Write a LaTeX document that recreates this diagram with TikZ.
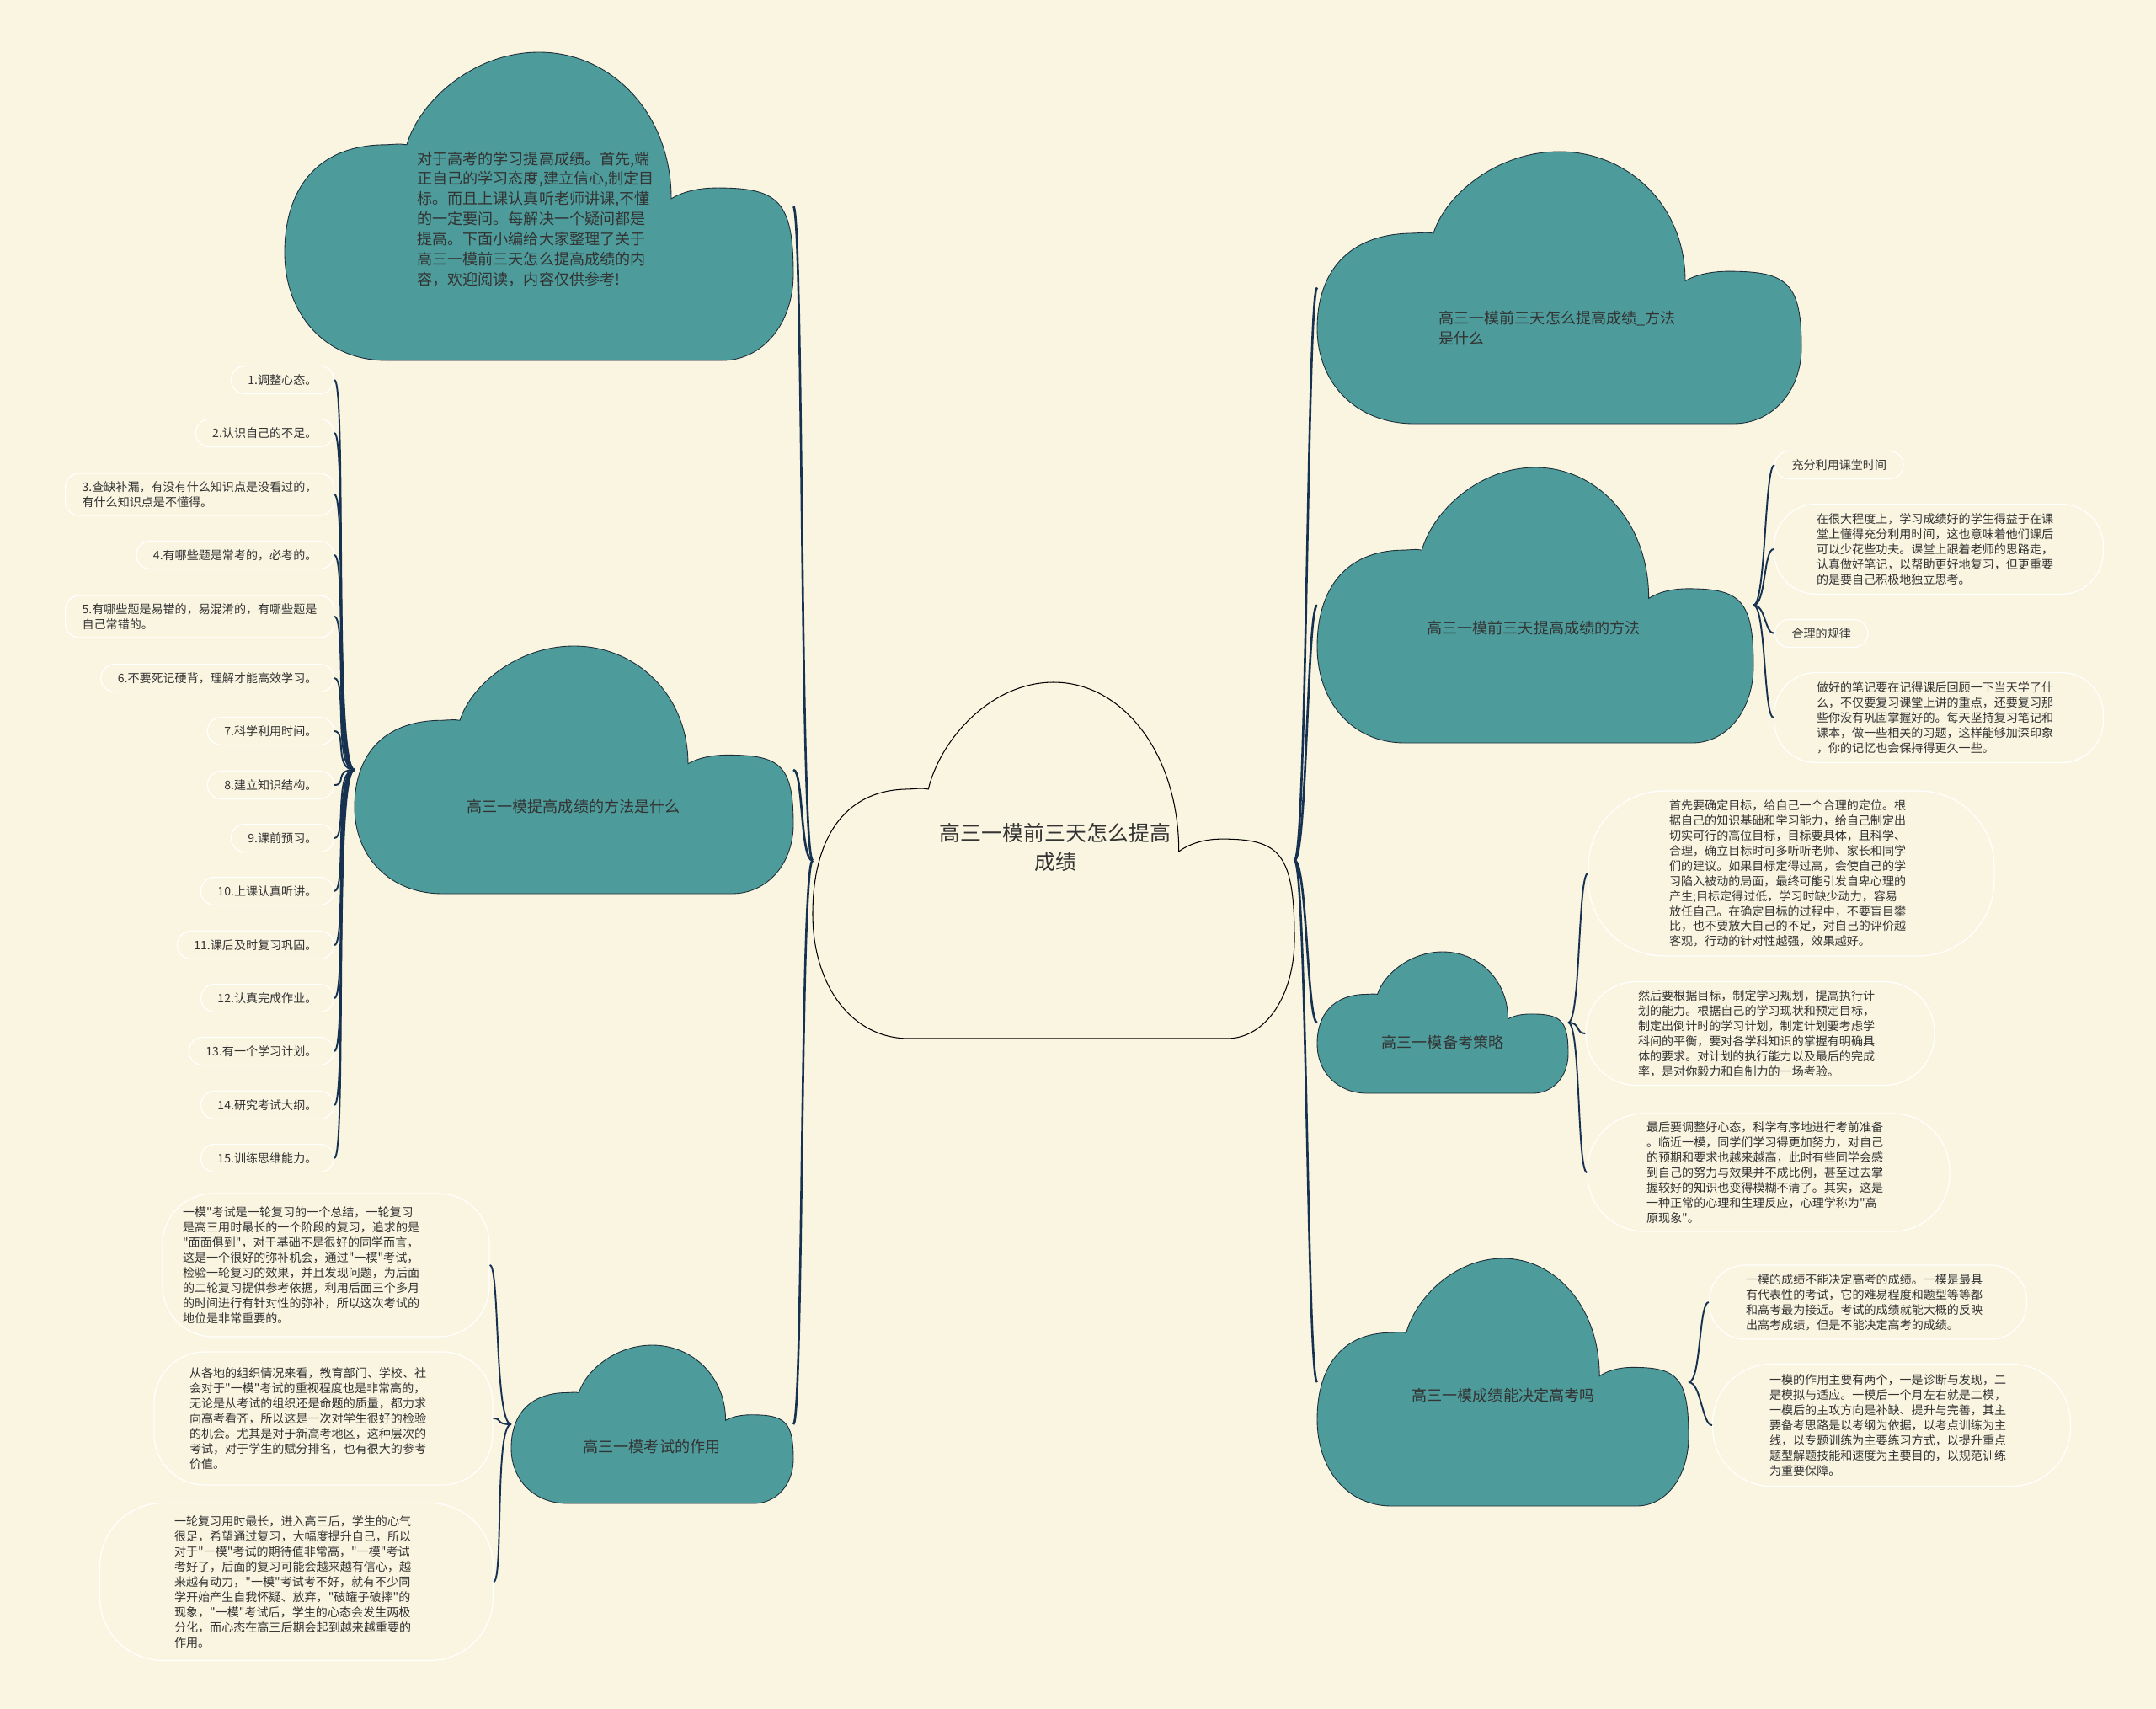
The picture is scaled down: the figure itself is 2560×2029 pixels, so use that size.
\documentclass[tikz,border=0pt]{standalone}
\usepackage{fontspec}
\setmainfont{Noto Sans CJK SC}
\newfontfamily\cjkfont{Noto Sans CJK SC}
\usetikzlibrary{calc}

\definecolor{paper}{RGB}{250,245,225}
\definecolor{cloudc}{RGB}{77,155,154}
\definecolor{ink}{RGB}{51,51,51}
\definecolor{navy}{RGB}{22,50,80}
\definecolor{rim}{RGB}{30,45,55}

\newcommand{\smallfont}{\cjkfont\fontsize{8pt}{10.2pt}\selectfont}
\newcommand{\labelfont}{\cjkfont\fontsize{10.3pt}{13.6pt}\selectfont}
\newcommand{\bigfont}{\cjkfont\fontsize{14.2pt}{19pt}\selectfont}

\tikzset{
  link/.style={draw=navy, line width=1.1pt},
  mainlink/.style={draw=navy, line width=1.5pt},
  tealcloud/.style={fill=cloudc, draw=rim, line width=0.5pt},
  topcloud/.style={fill=paper, draw=black, line width=0.6pt},
  item/.style={draw=white, line width=0.7pt, fill=paper, rounded corners=0.33cm,
    minimum height=0.66cm, inner xsep=0.4cm, inner ysep=0.1cm, align=left,
    font=\smallfont, text=ink},
  note/.style={draw=white, line width=0.7pt, fill=paper, align=left,
    font=\smallfont, text=ink, text width=5.8cm},
  cloudtext/.style={font=\labelfont, text=ink, inner sep=0pt, align=left}
}

% cloud: name, left x, top y, right x, bottom y, style
\newcommand{\cloud}[6]{%
  \pgfmathsetmacro{\cloudw}{#4-#2}%
  \pgfmathsetmacro{\cloudh}{#5-#3}%
  \begin{scope}[shift={(#2,#5)}, xscale=\cloudw, yscale=-\cloudh]
    \path[#6] (0.2,0) -- (0.86,0)
      .. controls (0.94,0) and (1,0.12) .. (1,0.28)
      .. controls (1,0.52) and (0.97,0.56) .. (0.85,0.56)
      .. controls (0.81,0.56) and (0.78,0.545) .. (0.76,0.525)
      .. controls (0.76,0.80) and (0.643,1) .. (0.5,1)
      .. controls (0.37,1) and (0.265,0.84) .. (0.24,0.70)
      .. controls (0.23,0.703) .. (0.2,0.70)
      .. controls (0.06,0.70) and (0,0.55) .. (0,0.35)
      .. controls (0,0.15) and (0.08,0) .. (0.2,0) -- cycle;
    \coordinate (#1-w) at (0,0.5);
    \coordinate (#1-e) at (1,0.5);
  \end{scope}}

\begin{document}
\begin{tikzpicture}[x=0.02cm, y=-0.02cm]
  \useasboundingbox (0,0) rectangle (2560,2029);
  \fill[paper] (0,0) rectangle (2560,2029);

  % clouds
  \cloud{c0}{965}{810}{1537}{1233}{topcloud}
  \cloud{c1}{338}{62}{942}{428}{tealcloud}
  \cloud{c2}{421}{767}{942}{1061}{tealcloud}
  \cloud{c3}{607}{1597}{942}{1785}{tealcloud}
  \cloud{r1}{1564}{180}{2139}{503}{tealcloud}
  \cloud{r2}{1564}{555}{2082}{882}{tealcloud}
  \cloud{r3}{1564}{1130}{1862}{1298}{tealcloud}
  \cloud{r4}{1564}{1494}{2005}{1788}{tealcloud}

  % cloud texts
  \node[font=\bigfont, text=ink, align=center, inner sep=0pt] (n0) at (1253,1006)
    {高三一模前三天怎么提高\\成绩};
  \node[cloudtext] (n1) at (636,260)
    {对于高考的学习提高成绩。首先,端\\正自己的学习态度,建立信心,制定目\\标。而且上课认真听老师讲课,不懂\\的一定要问。每解决一个疑问都是\\提高。下面小编给大家整理了关于\\高三一模前三天怎么提高成绩的内\\容，欢迎阅读，内容仅供参考!};
  \node[cloudtext] (n2) at (681,958) {高三一模提高成绩的方法是什么};
  \node[cloudtext] (n3) at (774,1718) {高三一模考试的作用};
  \node[cloudtext, anchor=west] (m1) at (1708,390) {高三一模前三天怎么提高成绩\_方法\\是什么};
  \node[cloudtext] (m2) at (1821,746) {高三一模前三天提高成绩的方法};
  \node[cloudtext] (m3) at (1713,1238) {高三一模备考策略};
  \node[cloudtext] (m4) at (1785,1657) {高三一模成绩能决定高考吗};

  % left list
  \node[item, anchor=east] (i1) at (397,451) {1.调整心态。};
  \node[item, anchor=east] (i2) at (397,514) {2.认识自己的不足。};
  \node[item, anchor=east, minimum height=1cm] (i3) at (397,587)
    {3.查缺补漏，有没有什么知识点是没看过的，\\有什么知识点是不懂得。};
  \node[item, anchor=east] (i4) at (397,659) {4.有哪些题是常考的，必考的。};
  \node[item, anchor=east, minimum height=1cm] (i5) at (397,732)
    {5.有哪些题是易错的，易混淆的，有哪些题是\\自己常错的。};
  \node[item, anchor=east] (i6) at (397,805) {6.不要死记硬背，理解才能高效学习。};
  \node[item, anchor=east] (i7) at (397,868) {7.科学利用时间。};
  \node[item, anchor=east] (i8) at (397,932) {8.建立知识结构。};
  \node[item, anchor=east] (i9) at (397,995) {9.课前预习。};
  \node[item, anchor=east] (i10) at (397,1058) {10.上课认真听讲。};
  \node[item, anchor=east] (i11) at (397,1122) {11.课后及时复习巩固。};
  \node[item, anchor=east] (i12) at (397,1185) {12.认真完成作业。};
  \node[item, anchor=east] (i13) at (397,1248) {13.有一个学习计划。};
  \node[item, anchor=east] (i14) at (397,1312) {14.研究考试大纲。};
  \node[item, anchor=east] (i15) at (397,1375) {15.训练思维能力。};

  % left notes
  \node[note, text width=6.8cm, inner xsep=0.48cm, minimum height=3.4cm, rounded corners=1.2cm] (a1) at (387,1502)
    {一模"考试是一轮复习的一个总结，一轮复习\\是高三用时最长的一个阶段的复习，追求的是\\"面面俱到"，对于基础不是很好的同学而言，\\这是一个很好的弥补机会，通过"一模"考试，\\检验一轮复习的效果，并且发现问题，为后面\\的二轮复习提供参考依据，利用后面三个多月\\的时间进行有针对性的弥补，所以这次考试的\\地位是非常重要的。};
  \node[note, text width=6.36cm, inner xsep=0.84cm, minimum height=3.16cm, rounded corners=1.2cm] (a2) at (384,1684)
    {从各地的组织情况来看，教育部门、学校、社\\会对于"一模"考试的重视程度也是非常高的，\\无论是从考试的组织还是命题的质量，都力求\\向高考看齐，所以这是一次对学生很好的检验\\的机会。尤其是对于新高考地区，这种层次的\\考试，对于学生的赋分排名，也有很大的参考\\价值。};
  \node[note, inner xsep=1.77cm, minimum height=3.74cm, rounded corners=1.5cm] (a3) at (352,1878)
    {一轮复习用时最长，进入高三后，学生的心气\\很足，希望通过复习，大幅度提升自己，所以\\对于"一模"考试的期待值非常高，"一模"考试\\考好了，后面的复习可能会越来越有信心，越\\来越有动力，"一模"考试考不好，就有不少同\\学开始产生自我怀疑、放弃，"破罐子破摔"的\\现象，"一模"考试后，学生的心态会发生两极\\分化，而心态在高三后期会起到越来越重要的\\作用。};

  % right notes
  \node[item, anchor=west] (p1) at (2107,552) {充分利用课堂时间};
  \node[note, inner xsep=1.01cm, minimum height=2.14cm, rounded corners=1cm] (p2) at (2302,652)
    {在很大程度上，学习成绩好的学生得益于在课\\堂上懂得充分利用时间，这也意味着他们课后\\可以少花些功夫。课堂上跟着老师的思路走，\\认真做好笔记，以帮助更好地复习，但更重要\\的是要自己积极地独立思考。};
  \node[item, anchor=west] (p3) at (2107,752) {合理的规律};
  \node[note, inner xsep=1.01cm, minimum height=2.14cm, rounded corners=1cm] (p4) at (2302,852)
    {做好的笔记要在记得课后回顾一下当天学了什\\么，不仅要复习课堂上讲的重点，还要复习那\\些你没有巩固掌握好的。每天坚持复习笔记和\\课本，做一些相关的习题，这样能够加深印象\\，你的记忆也会保持得更久一些。};

  \node[note, inner xsep=1.92cm, minimum height=3.92cm, rounded corners=1.8cm] (s1) at (2127,1037)
    {首先要确定目标，给自己一个合理的定位。根\\据自己的知识基础和学习能力，给自己制定出\\切实可行的高位目标，目标要具体，且科学、\\合理，确立目标时可多听听老师、家长和同学\\们的建议。如果目标定得过高，会使自己的学\\习陷入被动的局面，最终可能引发自卑心理的\\产生;目标定得过低，学习时缺少动力，容易\\放任自己。在确定目标的过程中，不要盲目攀\\比，也不要放大自己的不足，对自己的评价越\\客观，行动的针对性越强，效果越好。};
  \node[note, inner xsep=1.24cm, minimum height=2.46cm, rounded corners=1.2cm] (s2) at (2090,1227)
    {然后要根据目标，制定学习规划，提高执行计\\划的能力。根据自己的学习现状和预定目标，\\制定出倒计时的学习计划，制定计划要考虑学\\科间的平衡，要对各学科知识的掌握有明确具\\体的要求。对计划的执行能力以及最后的完成\\率，是对你毅力和自制力的一场考验。};
  \node[note, inner xsep=1.4cm, minimum height=2.8cm, rounded corners=1.35cm] (s3) at (2100,1392)
    {最后要调整好心态，科学有序地进行考前准备\\。临近一模，同学们学习得更加努力，对自己\\的预期和要求也越来越高，此时有些同学会感\\到自己的努力与效果并不成比例，甚至过去掌\\握较好的知识也变得模糊不清了。其实，这是\\一种正常的心理和生理反应，心理学称为"高\\原现象"。};

  \node[note, inner xsep=0.87cm, minimum height=1.76cm, rounded corners=0.85cm] (t1) at (2218,1546)
    {一模的成绩不能决定高考的成绩。一模是最具\\有代表性的考试，它的难易程度和题型等等都\\和高考最为接近。考试的成绩就能大概的反映\\出高考成绩，但是不能决定高考的成绩。};
  \node[note, inner xsep=1.35cm, minimum height=2.9cm, rounded corners=1.4cm] (t2) at (2246,1692)
    {一模的作用主要有两个，一是诊断与发现，二\\是模拟与适应。一模后一个月左右就是二模，\\一模后的主攻方向是补缺、提升与完善，其主\\要备考思路是以考纲为依据，以考点训练为主\\线，以专题训练为主要练习方式，以提升重点\\题型解题技能和速度为主要目的，以规范训练\\为重要保障。};

  % main branches
  \draw[mainlink] (c0-w) .. controls +(-15,0) and +(12,0) .. (c1-e);
  \draw[mainlink] (c0-w) .. controls +(-15,0) and +(12,0) .. (c2-e);
  \draw[mainlink] (c0-w) .. controls +(-15,0) and +(12,0) .. (c3-e);
  \draw[mainlink] (c0-e) .. controls +(15,0) and +(-12,0) .. (r1-w);
  \draw[mainlink] (c0-e) .. controls +(15,0) and +(-12,0) .. (r2-w);
  \draw[mainlink] (c0-e) .. controls +(15,0) and +(-12,0) .. (r3-w);
  \draw[mainlink] (c0-e) .. controls +(15,0) and +(-12,0) .. (r4-w);

  % list branches
  \draw[link] (c2-w) .. controls +(-25,0) and +(15,0) .. (i1.east);
  \draw[link] (c2-w) .. controls +(-25,0) and +(15,0) .. (i2.east);
  \draw[link] (c2-w) .. controls +(-25,0) and +(15,0) .. (i3.east);
  \draw[link] (c2-w) .. controls +(-25,0) and +(15,0) .. (i4.east);
  \draw[link] (c2-w) .. controls +(-25,0) and +(15,0) .. (i5.east);
  \draw[link] (c2-w) .. controls +(-25,0) and +(15,0) .. (i6.east);
  \draw[link] (c2-w) .. controls +(-25,0) and +(15,0) .. (i7.east);
  \draw[link] (c2-w) .. controls +(-25,0) and +(15,0) .. (i8.east);
  \draw[link] (c2-w) .. controls +(-25,0) and +(15,0) .. (i9.east);
  \draw[link] (c2-w) .. controls +(-25,0) and +(15,0) .. (i10.east);
  \draw[link] (c2-w) .. controls +(-25,0) and +(15,0) .. (i11.east);
  \draw[link] (c2-w) .. controls +(-25,0) and +(15,0) .. (i12.east);
  \draw[link] (c2-w) .. controls +(-25,0) and +(15,0) .. (i13.east);
  \draw[link] (c2-w) .. controls +(-25,0) and +(15,0) .. (i14.east);
  \draw[link] (c2-w) .. controls +(-25,0) and +(15,0) .. (i15.east);

  \draw[link] (c3-w) .. controls +(-20,0) and +(12,0) .. (a1.east);
  \draw[link] (c3-w) .. controls +(-20,0) and +(12,0) .. (a2.east);
  \draw[link] (c3-w) .. controls +(-20,0) and +(12,0) .. (a3.east);

  \draw[link] (r2-e) .. controls +(15,0) and +(-12,0) .. (p1.west);
  \draw[link] (r2-e) .. controls +(15,0) and +(-12,0) .. (p2.west);
  \draw[link] (r2-e) .. controls +(15,0) and +(-12,0) .. (p3.west);
  \draw[link] (r2-e) .. controls +(15,0) and +(-12,0) .. (p4.west);

  \draw[link] (r3-e) .. controls +(15,0) and +(-12,0) .. (s1.west);
  \draw[link] (r3-e) .. controls +(15,0) and +(-12,0) .. (s2.west);
  \draw[link] (r3-e) .. controls +(15,0) and +(-12,0) .. (s3.west);

  \draw[link] (r4-e) .. controls +(15,0) and +(-12,0) .. (t1.west);
  \draw[link] (r4-e) .. controls +(15,0) and +(-12,0) .. (t2.west);
\end{tikzpicture}
\end{document}
